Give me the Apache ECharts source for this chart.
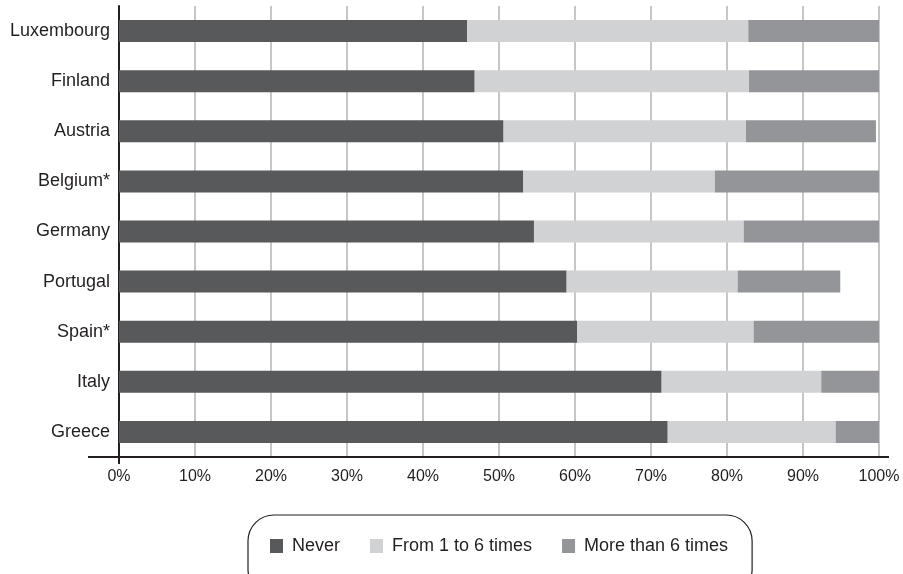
<!DOCTYPE html>
<html><head><meta charset="utf-8">
<script src="https://cdn.jsdelivr.net/npm/echarts@6/dist/echarts.min.js"></script>
<style>html,body{margin:0;padding:0;background:#fff}#c{width:903px;height:574px}</style>
</head><body><div id="c"></div>
<script>
const countries = ['Luxembourg','Finland','Austria','Belgium*','Germany','Portugal','Spain*','Italy','Greece'];
const never = [45.8, 46.8, 50.6, 53.2, 54.6, 58.9, 60.3, 71.4, 72.2];
const oneToSix = [37.0, 36.1, 31.9, 25.2, 27.6, 22.5, 23.2, 21.0, 22.1];
const moreThanSix = [17.2, 17.1, 17.1, 21.6, 17.8, 13.5, 16.5, 7.6, 5.7];
const xTicks = [0,10,20,30,40,50,60,70,80,90,100];
const seriesNames = ['Never','From 1 to 6 times','More than 6 times'];
const colors = ['#58595b','#d1d2d4','#939598'];

const chart = echarts.init(document.getElementById('c'), null, {renderer:'canvas'});
const font = 'Liberation Sans, Arial, sans-serif';
chart.setOption({
  animation:false,
  color: colors,
  textStyle:{fontFamily:font},
  grid:{left:119, right:24, top:6, bottom:117},
  legend:{
    data: seriesNames, left:248, top:515,
    itemWidth:13, itemHeight:14, itemGap:30,
    icon:'rect',
    padding:[22,24,40,22],
    borderColor:'#231f20', borderWidth:1.2, borderRadius:26,
    textStyle:{fontSize:18, color:'#231f20', fontFamily:font, padding:[0,0,0,4]}
  },
  xAxis:{
    type:'value', min:0, max:100, interval:10,
    axisLine:{show:true, lineStyle:{color:'#231f20', width:2}},
    axisTick:{show:false},
    axisLabel:{fontSize:16, color:'#231f20', margin:12, fontFamily:font,
      formatter:v => xTicks.includes(v) ? v + '%' : ''},
    splitLine:{show:true, lineStyle:{color:'#b5b5b5', width:1.5}}
  },
  yAxis:{
    type:'category', data: countries, inverse:true,
    axisLine:{show:true, lineStyle:{color:'#231f20', width:2}},
    axisTick:{show:false},
    axisLabel:{fontSize:18, color:'#231f20', margin:9, fontFamily:font}
  },
  series:[
    {name:seriesNames[0], type:'bar', stack:'s', data:never, barWidth:22},
    {name:seriesNames[1], type:'bar', stack:'s', data:oneToSix, barWidth:22},
    {name:seriesNames[2], type:'bar', stack:'s', data:moreThanSix, barWidth:22}
  ]
});
// extend axis lines slightly beyond the plot like the reference
const x0 = chart.convertToPixel({xAxisIndex:0}, 0);
const x1 = chart.convertToPixel({xAxisIndex:0}, 100);
const yB = 574 - 117;
chart.setOption({graphic:[
  {type:'line', shape:{x1:x0-31, y1:yB, x2:x1+10, y2:yB}, style:{stroke:'#231f20', lineWidth:2}, silent:true},
  {type:'line', shape:{x1:x0, y1:yB, x2:x0, y2:yB+7}, style:{stroke:'#231f20', lineWidth:2}, silent:true}
]});
</script></body></html>
